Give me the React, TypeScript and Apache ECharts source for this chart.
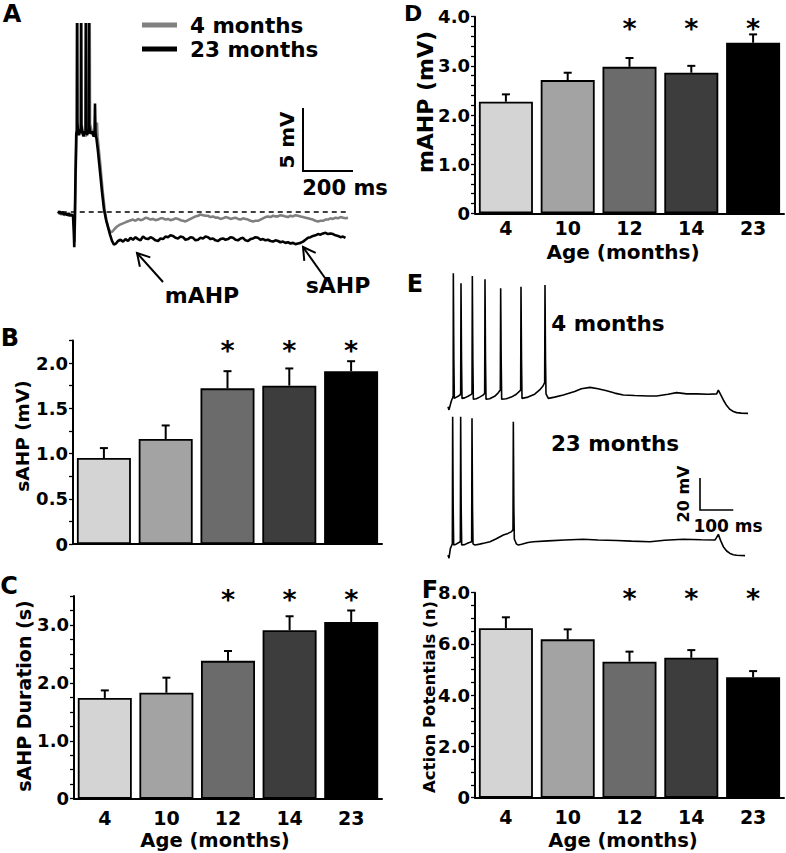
import React, { useEffect, useRef } from "react";
import * as echarts from "echarts";

const FONT = "'DejaVu Sans', 'Liberation Sans', sans-serif";

// ---------- bar panel data ----------
const ageLabels = ["4", "10", "12", "14", "23"];
const barColors = ["#d4d4d4", "#a3a3a3", "#6b6b6b", "#3d3d3d", "#000000"];

const sahpMean = [0.95, 1.16, 1.72, 1.75, 1.91];
const sahpSem = [0.11, 0.15, 0.19, 0.19, 0.11];
const sahpSig = [0, 0, 1, 1, 1];

const durMean = [1.74, 1.83, 2.38, 2.91, 3.05];
const durSem = [0.13, 0.26, 0.17, 0.24, 0.2];
const durSig = [0, 0, 1, 1, 1];

const mahpMean = [2.27, 2.71, 2.98, 2.86, 3.47];
const mahpSem = [0.15, 0.15, 0.18, 0.14, 0.17];
const mahpSig = [0, 0, 1, 1, 1];

const apMean = [6.61, 6.18, 5.31, 5.46, 4.7];
const apSem = [0.43, 0.39, 0.39, 0.3, 0.24];
const apSig = [0, 0, 1, 1, 1];

// height (in axis units) at which the significance asterisks sit, per panel
const starLevel = { sahp: 2.19, dur: 3.52, mahp: 3.85, ap: 7.95 };

// ---------- panel A traces: [time ms, mV relative to rest] ----------
const trace23A = [
  [0, -0.1], [6, 0.05], [12, -0.15], [18, 0.0], [24, -0.2], [30, -0.1], [36, -0.25], [42, -0.1], [48, -0.3], [54, -0.2], [60, -0.3],
  [63, -1.5], [65, -2.8], [67, -1.0], [70, 3.0], [73, 6.2], [75, 6.5], [76, 15], [77, 7.2], [80, 6.4], [84, 6.1], [88, 6.4], [91, 6.6],
  [92, 15], [93, 7.0], [97, 6.3], [102, 6.0], [106, 6.4], [110, 6.2], [111, 15], [112, 6.6], [116, 6.1], [120, 6.3], [123, 6.5], [124, 15],
  [125, 6.9], [130, 6.2], [136, 6.4], [142, 6.0], [146, 6.1], [148, 8.6], [150, 6.3], [154, 5.8], [160, 4.8], [168, 3.2], [176, 1.6],
  [184, 0.2], [192, -0.6], [200, -1.2], [208, -1.8], [216, -2.3], [224, -2.6], [232, -2.5], [240, -2.3], [250, -2.2], [260, -2.35],
  [270, -2.15], [280, -2.3], [290, -2.05], [300, -2.2], [310, -2.0], [320, -2.15], [330, -2.25], [340, -1.95], [350, -2.1], [360, -2.15],
  [370, -2.0], [380, -2.1], [390, -2.25], [400, -2.3], [410, -2.1], [420, -2.15], [430, -1.95], [440, -2.0], [450, -1.85], [460, -1.9],
  [470, -2.05], [480, -2.1], [490, -1.95], [500, -2.0], [510, -2.2], [520, -2.15], [530, -2.0], [540, -2.05], [550, -2.25], [560, -2.2],
  [570, -2.05], [580, -2.1], [590, -1.95], [600, -2.0], [610, -2.15], [620, -2.1], [630, -2.25], [640, -2.3], [650, -2.15], [660, -2.1],
  [670, -2.2], [680, -2.15], [690, -2.0], [700, -2.05], [710, -2.2], [720, -2.25], [730, -2.1], [740, -2.05], [750, -2.25], [760, -2.3],
  [770, -2.15], [780, -2.1], [790, -2.0], [800, -2.05], [810, -2.2], [820, -2.15], [830, -2.25], [840, -2.2], [850, -2.3], [860, -2.35],
  [870, -2.25], [880, -2.3], [890, -2.4], [900, -2.35], [910, -2.45], [920, -2.4], [930, -2.5], [940, -2.45], [950, -2.55], [960, -2.5],
  [970, -2.45], [980, -2.35], [990, -2.2], [1000, -2.05], [1010, -2.0], [1020, -1.9], [1030, -1.85], [1040, -1.75], [1050, -1.8],
  [1060, -1.7], [1070, -1.65], [1080, -1.75], [1090, -1.7], [1100, -1.75], [1110, -1.85], [1120, -1.9], [1130, -2.0], [1140, -1.95], [1150, -2.05]
];
const trace4A = [
  [0, -0.15], [6, -0.05], [12, -0.2], [18, -0.1], [24, -0.25], [30, -0.15], [36, -0.2], [42, -0.3], [48, -0.2], [54, -0.3], [60, -0.25],
  [64, -1.2], [66, -2.4], [68, -0.5], [71, 3.2], [74, 6.0], [77, 6.4], [78, 15], [79, 7.0], [83, 6.2], [88, 6.5], [93, 6.5], [94, 15],
  [95, 6.9], [100, 6.2], [106, 6.3], [112, 6.0], [113, 15], [114, 6.6], [120, 6.4], [126, 6.6], [127, 15], [128, 7.0], [134, 6.5],
  [140, 6.3], [146, 6.2], [152, 6.1], [156, 7.1], [158, 6.0], [162, 5.2], [170, 3.6], [178, 1.8], [186, 0.3], [194, -0.7], [202, -1.3],
  [210, -1.6], [218, -1.55], [226, -1.35], [236, -1.15], [248, -1.0], [260, -0.9], [272, -0.8], [286, -0.7], [300, -0.6], [310, -0.7],
  [320, -0.55], [330, -0.65], [340, -0.6], [350, -0.45], [360, -0.5], [370, -0.6], [380, -0.55], [390, -0.65], [400, -0.6], [410, -0.5],
  [420, -0.5], [430, -0.6], [440, -0.55], [450, -0.65], [460, -0.6], [470, -0.5], [480, -0.55], [490, -0.65], [500, -0.7], [510, -0.75],
  [520, -0.65], [530, -0.55], [540, -0.45], [550, -0.35], [560, -0.3], [570, -0.2], [580, -0.25], [590, -0.3], [600, -0.3], [610, -0.4],
  [620, -0.35], [630, -0.45], [640, -0.45], [650, -0.55], [660, -0.5], [670, -0.4], [680, -0.45], [690, -0.55], [700, -0.5], [710, -0.45],
  [720, -0.55], [730, -0.6], [740, -0.5], [750, -0.55], [760, -0.6], [770, -0.7], [780, -0.75], [790, -0.7], [800, -0.7], [810, -0.6],
  [820, -0.5], [830, -0.4], [840, -0.35], [850, -0.4], [860, -0.3], [870, -0.35], [880, -0.35], [890, -0.25], [900, -0.3], [910, -0.35],
  [920, -0.4], [930, -0.3], [940, -0.35], [950, -0.25], [960, -0.3], [970, -0.35], [980, -0.4], [990, -0.45], [1000, -0.5], [1010, -0.55],
  [1020, -0.6], [1030, -0.7], [1040, -0.75], [1050, -0.7], [1060, -0.7], [1070, -0.6], [1080, -0.6], [1090, -0.5], [1100, -0.55],
  [1110, -0.45], [1120, -0.5], [1130, -0.4], [1140, -0.45], [1150, -0.5], [1160, -0.45]
];
const restLineA = [[15, 0], [1160, 0]];

// ---------- panel E traces: [time ms, mV] ----------
const trace4E = [
  [0, -70], [3, -72], [8, -68], [11, -65.8], [14, -64.5], [15.5, -63], [16, 13.4], [17.5, -40], [19, -64.8], [24, -64.2], [30, -63.5],
  [36, -62.7], [38, -62], [39, 7.1], [40.5, -40], [42, -64.8], [50, -64.5], [60, -63.5], [70, -62.3], [72, -61.7], [73, 11.7], [74.5, -40],
  [76, -65.3], [85, -65], [95, -64], [105, -62.8], [110, -61.7], [111, 9.6], [112.5, -40], [114, -65.3], [125, -65], [140, -63.5],
  [150, -61.5], [157, -59.6], [158, 4], [159.5, -40], [161, -65.3], [175, -65], [190, -64], [205, -62.2], [218, -59.6], [219, 5],
  [220.5, -40], [222, -64.8], [240, -64], [260, -62.2], [275, -59.5], [285, -57], [290, -55], [291, 6], [292.5, -40], [294, -62],
  [301, -64.8], [320, -64], [346, -62.7], [380, -60.5], [400, -58.8], [426, -57.9], [450, -58.8], [476, -60], [500, -61.5], [526, -62.7],
  [560, -63], [600, -63.3], [626, -63.3], [660, -62.2], [686, -61.2], [716, -62], [746, -62], [780, -62.2], [806, -62], [811, -59.6],
  [818, -62.5], [826, -65.8], [836, -69.3], [846, -71.7], [856, -73], [866, -73.7], [880, -74], [900, -74.2]
];
const trace23E = [
  [0, -70], [3, -72], [7, -66], [10, -64.5], [13, -63], [14, 16.4], [15.5, -40], [17, -63.8], [22, -63.5], [30, -62.5], [37, -61.7],
  [38, 16.4], [39.5, -40], [41, -63.8], [50, -63.5], [60, -62.5], [71, -61.7], [72, 15.4], [73.5, -40], [75, -63], [81, -63.8],
  [95, -63.2], [110, -62.5], [126, -61.7], [145, -59.8], [166, -57.5], [180, -56.5], [191, -55.4], [195, -54], [196, 13.3], [197.5, -40],
  [199, -60], [205, -63], [211, -63.8], [221, -63.3], [240, -62.2], [256, -61.7], [300, -61.2], [350, -60.6], [406, -60.2], [450, -60.6],
  [506, -60.9], [550, -61.3], [606, -61.7], [650, -60.8], [706, -60.2], [760, -60.5], [801, -60.6], [806, -59], [811, -57.1], [818, -61],
  [826, -64.8], [836, -67.5], [846, -69], [856, -69.8], [866, -70.2], [891, -70.4]
];

const boldText = (text: string, x: number, y: number, size: number, rotate = 0) => ({
  type: "text",
  x,
  y,
  rotation: rotate,
  style: {
    text,
    fontSize: size,
    fontWeight: "bold",
    fontFamily: FONT,
    fill: "#000",
    align: "center",
    verticalAlign: "middle",
  },
});

const poly = (points: number[][], w = 2) => ({
  type: "polyline",
  shape: { points },
  style: { stroke: "#000", lineWidth: w, fill: null },
});

export default function App() {
  const ref = useRef<HTMLDivElement>(null);

  useEffect(() => {
    if (!ref.current) return;
    const chart = echarts.init(ref.current, null, { renderer: "svg" });

    const grids = [
      { left: 58, top: 23, width: 290, height: 239.4 }, // A
      { left: 73, top: 340.4, width: 309, height: 203.6 }, // B
      { left: 74, top: 596, width: 308, height: 202.7 }, // C
      { left: 475, top: 16.7, width: 309, height: 196.6 }, // D
      { left: 448, top: 269.1, width: 300, height: 147.2 }, // E top
      { left: 448, top: 414.2, width: 300, height: 150.4 }, // E bottom
      { left: 475, top: 592.7, width: 309, height: 205 }, // F
    ].map((g) => ({ ...g, containLabel: false, outerBoundsMode: "none" }));

    const xAxes: any[] = [];
    const yAxes: any[] = [];
    const series: any[] = [];

    const traceAxes = (gi: number, xmin: number, xmax: number, ymin: number, ymax: number) => {
      xAxes[gi] = { gridIndex: gi, type: "value", min: xmin, max: xmax, show: false };
      yAxes[gi] = { gridIndex: gi, type: "value", min: ymin, max: ymax, show: false };
    };

    const barPanel = (
      gi: number,
      mean: number[],
      sem: number[],
      sig: number[],
      star: number,
      max: number,
      minor: number,
      step: number,
      showX: boolean,
      labelMargin: number
    ) => {
      xAxes[gi] = {
        gridIndex: gi,
        type: "category",
        data: ageLabels,
        axisLine: { lineStyle: { color: "#000", width: 2 } },
        axisTick: { alignWithLabel: true, length: 4, lineStyle: { color: "#000", width: 1.5 } },
        axisLabel: {
          show: showX,
          color: "#000",
          fontFamily: FONT,
          fontWeight: "bold",
          fontSize: 19,
          margin: labelMargin,
        },
      };
      yAxes[gi] = {
        gridIndex: gi,
        type: "value",
        min: 0,
        max,
        interval: minor,
        splitLine: { show: false },
        axisLine: { show: true, lineStyle: { color: "#000", width: 2 } },
        axisTick: { show: true, length: 4, lineStyle: { color: "#000", width: 1.3 } },
        axisLabel: {
          color: "#000",
          fontFamily: FONT,
          fontWeight: "bold",
          fontSize: 18,
          margin: 5,
          formatter: (v: number) => {
            const r = v / step;
            if (Math.abs(r - Math.round(r)) > 1e-6) return "";
            return v === 0 ? "0" : v.toFixed(1);
          },
        },
      };
      series.push({
        type: "bar",
        xAxisIndex: gi,
        yAxisIndex: gi,
        barWidth: 54,
        data: mean.map((v, i) => ({ value: v, itemStyle: { color: barColors[i] } })),
        itemStyle: { borderColor: "#000", borderWidth: 1.8 },
        z: 2,
      });
      series.push({
        type: "custom",
        xAxisIndex: gi,
        yAxisIndex: gi,
        z: 5,
        data: mean.map((v, i) => [i, v, v + sem[i], sig[i], star]),
        renderItem: (params: any, api: any) => {
          const i = api.value(0);
          const base = api.coord([i, api.value(1)]);
          const top = api.coord([i, api.value(2)]);
          const children: any[] = [
            { type: "line", shape: { x1: base[0], y1: base[1], x2: top[0], y2: top[1] }, style: { stroke: "#000", lineWidth: 2 } },
            { type: "line", shape: { x1: top[0] - 4, y1: top[1], x2: top[0] + 4, y2: top[1] }, style: { stroke: "#000", lineWidth: 2 } },
          ];
          if (api.value(3)) {
            const sp = api.coord([i, api.value(4)]);
            children.push({
              type: "text",
              x: sp[0],
              y: sp[1] + 4.5,
              style: {
                text: "*",
                fontSize: 27,
                fontWeight: "bold",
                fontFamily: FONT,
                fill: "#000",
                align: "center",
                verticalAlign: "middle",
              },
            });
          }
          return { type: "group", children };
        },
      });
    };

    // A
    traceAxes(0, 0, 1160, -4, 15);
    series.push({
      name: "4 months",
      type: "line",
      xAxisIndex: 0,
      yAxisIndex: 0,
      data: trace4A,
      symbol: "none",
      color: "#808080",
      lineStyle: { color: "#808080", width: 2.6 },
      z: 2,
    });
    series.push({
      name: "23 months",
      type: "line",
      xAxisIndex: 0,
      yAxisIndex: 0,
      data: trace23A,
      symbol: "none",
      color: "#000",
      lineStyle: { color: "#000", width: 2.6 },
      z: 3,
    });
    series.push({
      name: "rest",
      type: "line",
      xAxisIndex: 0,
      yAxisIndex: 0,
      data: restLineA,
      symbol: "none",
      lineStyle: { color: "#000", width: 1.5, type: [5, 4] },
      z: 4,
    });

    barPanel(1, sahpMean, sahpSem, sahpSig, starLevel.sahp, 2.25, 0.25, 0.5, false, 10);
    barPanel(2, durMean, durSem, durSig, starLevel.dur, 3.5, 0.25, 1, true, 10);
    barPanel(3, mahpMean, mahpSem, mahpSig, starLevel.mahp, 4, 0.2, 1, true, 5);

    // E
    traceAxes(4, 0, 900, -76, 16);
    traceAxes(5, 0, 900, -76, 18);
    series.push({
      name: "E 4 months",
      type: "line",
      xAxisIndex: 4,
      yAxisIndex: 4,
      data: trace4E,
      symbol: "none",
      lineStyle: { color: "#000", width: 1.6 },
    });
    series.push({
      name: "E 23 months",
      type: "line",
      xAxisIndex: 5,
      yAxisIndex: 5,
      data: trace23E,
      symbol: "none",
      lineStyle: { color: "#000", width: 1.6 },
    });

    barPanel(6, apMean, apSem, apSig, starLevel.ap, 8, 0.5, 2, true, 10);

    const graphic: any[] = [
      boldText("A", 12, 14, 24),
      boldText("B", 10, 338, 24),
      boldText("C", 9, 586, 24),
      boldText("D", 413, 13, 22),
      boldText("E", 415, 284, 24),
      boldText("F", 430, 590, 24),
      // axis names
      boldText("sAHP (mV)", 22, 436, 18.5, Math.PI / 2),
      boldText("sAHP Duration (s)", 24, 696, 19, Math.PI / 2),
      boldText("mAHP (mV)", 425, 102, 22, Math.PI / 2),
      boldText("Action Potentials (n)", 429, 697, 16.5, Math.PI / 2),
      boldText("Age (months)", 215, 840, 19.5),
      boldText("Age (months)", 623, 252, 20),
      boldText("Age (months)", 623, 840, 19.5),
      // A annotations
      boldText("5 mV", 287, 140, 20, Math.PI / 2),
      boldText("200 ms", 345, 188, 21),
      poly([[303, 108], [303, 171], [353, 171]], 2),
      boldText("mAHP", 202, 295, 22),
      boldText("sAHP", 338, 285, 22),
      poly([[163, 282], [137, 253]], 2),
      poly([[139.9, 266.7], [137, 253], [150.3, 257.4]], 2),
      poly([[325, 278], [303, 247]], 2),
      poly([[304.3, 260.9], [303, 247], [315.7, 252.8]], 2),
      // E annotations
      boldText("4 months", 608, 323, 21.5),
      boldText("23 months", 615, 443, 21.5),
      boldText("20 mV", 683, 494, 16, Math.PI / 2),
      boldText("100 ms", 728, 526, 17),
      poly([[700, 478], [700, 510], [733.3, 510]], 1.6),
    ];

    chart.setOption({
      animation: false,
      backgroundColor: "#fff",
      grid: grids,
      xAxis: xAxes,
      yAxis: yAxes,
      legend: {
        data: ["4 months", "23 months"],
        orient: "vertical",
        left: 137,
        top: 9,
        itemWidth: 35,
        itemHeight: 5,
        itemGap: 2,
        icon: "rect",
        selectedMode: false,
        textStyle: {
          fontFamily: FONT,
          fontWeight: "bold",
          fontSize: 21.5,
          color: "#000",
          padding: [0, 0, 0, 8],
        },
      },
      graphic,
      series,
    });

    return () => chart.dispose();
  }, []);

  return (
    <div
      ref={ref}
      style={{ position: "absolute", left: 0, top: 0, width: 786, height: 853, background: "#fff" }}
    />
  );
}
